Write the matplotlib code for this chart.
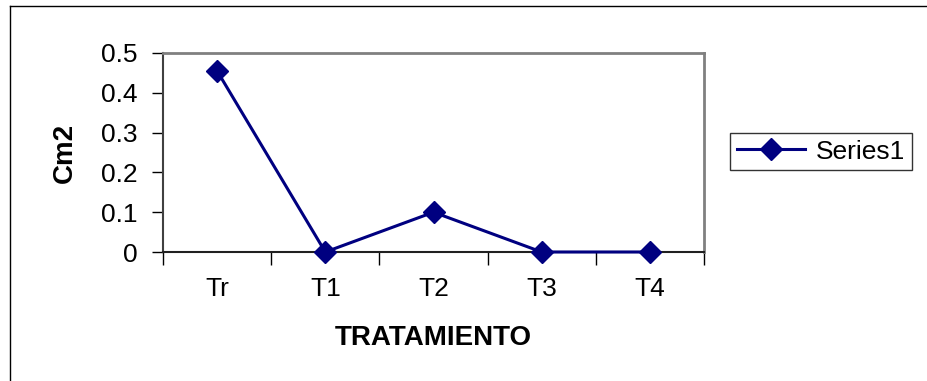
import matplotlib
matplotlib.use("Agg")
import matplotlib.pyplot as plt
from matplotlib.lines import Line2D

plt.rcParams["font.family"] = ["Liberation Sans", "DejaVu Sans"]

# data
categories = ["Tr", "T1", "T2", "T3", "T4"]
cm2_values = [0.455, 0.0, 0.10, 0.0, 0.0]
y_ticks = [0, 0.1, 0.2, 0.3, 0.4, 0.5]
y_tick_labels = ["0", "0.1", "0.2", "0.3", "0.4", "0.5"]
series_name = "Series1"

W, H = 927, 381
fig = plt.figure(figsize=(W / 100, H / 100), dpi=100, facecolor="white")
ax = fig.add_axes([163 / W, 1 - 252 / H, (704 - 163) / W, (252 - 53) / H])

x = list(range(len(categories)))
ax.plot(x, cm2_values, color="#000080", linewidth=2.2, marker="D",
        markersize=11, markerfacecolor="#000080", markeredgecolor="#000080",
        label=series_name, clip_on=False, zorder=5)

ax.set_xlim(-0.5, len(categories) - 0.5)
ax.set_ylim(0, 0.5)
ax.set_yticks(y_ticks)
ax.set_yticklabels(y_tick_labels)
ax.set_xticks(x)
ax.set_xticklabels(categories)
# category boundary ticks like the spreadsheet axis
ax.set_xticks([i - 0.5 for i in range(len(categories) + 1)], minor=True)
ax.tick_params(axis="x", which="major", length=0, pad=18, labelsize=19)
ax.tick_params(axis="x", which="minor", length=9, width=1, direction="out", color="black")
ax.tick_params(axis="y", length=8, width=1, direction="out", color="black",
               pad=10, labelsize=19)

for side in ["top", "right"]:
    ax.spines[side].set_color("#808080")
    ax.spines[side].set_linewidth(2)
ax.spines["left"].set_color("#404040")
ax.spines["left"].set_linewidth(1.5)
ax.spines["bottom"].set_color("#202020")
ax.spines["bottom"].set_linewidth(1.5)

ax.set_ylabel("Cm2", fontsize=20, fontweight="bold", labelpad=17)
ax.set_xlabel("TRATAMIENTO", fontsize=20, fontweight="bold", labelpad=17)

leg = fig.legend(loc="upper left", bbox_to_anchor=(730 / W, 1 - 133 / H),
                 fontsize=19, frameon=True, fancybox=False, edgecolor="black",
                 handlelength=2.6, borderaxespad=0, borderpad=0.25,
                 handletextpad=0.4)
leg.get_frame().set_linewidth(1)

# outer chart border (left and top edges visible in the crop)
fig.add_artist(Line2D([10 / W, 10 / W], [0, 1 - 6 / H], color="black", linewidth=1,
                      transform=fig.transFigure))
fig.add_artist(Line2D([10 / W, 1], [1 - 6 / H, 1 - 6 / H], color="black", linewidth=1,
                      transform=fig.transFigure))

fig.savefig("out.png", dpi=100, facecolor="white")
